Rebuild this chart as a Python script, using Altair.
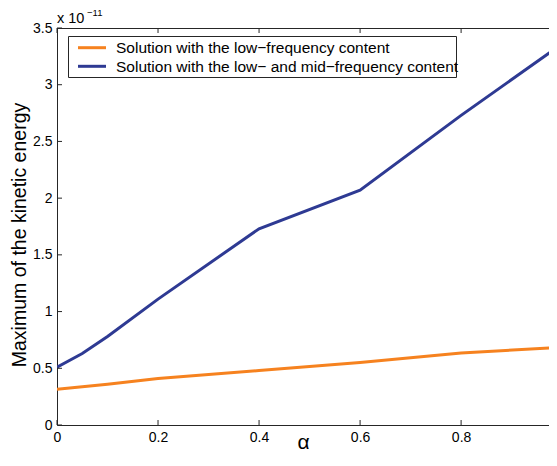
import altair as alt
import pandas as pd

# ---- data (values in units of 1e-11) ----
series_names = ["Solution with the low\u2212frequency content",
                "Solution with the low\u2212 and mid\u2212frequency content"]
alpha_low = [0.0, 0.1, 0.2, 0.4, 0.6, 0.8, 1.0]
energy_low = [0.315, 0.36, 0.41, 0.48, 0.55, 0.635, 0.685]
alpha_mid = [0.0, 0.05, 0.1, 0.2, 0.4, 0.6, 0.8, 1.0]
energy_mid = [0.51, 0.63, 0.78, 1.11, 1.73, 2.07, 2.73, 3.36]
colors = ["#F6821F", "#2E3A93"]

x_ticks = [0, 0.2, 0.4, 0.6, 0.8]
y_ticks = [0, 0.5, 1, 1.5, 2, 2.5, 3, 3.5]

W, H = 492, 397
X_MAX = 0.974
FONT = "Liberation Sans"
AX = "#262626"

rows = []
for a, e in zip(alpha_low, energy_low):
    rows.append({"alpha": a, "energy": e, "series": series_names[0]})
for a, e in zip(alpha_mid, energy_mid):
    rows.append({"alpha": a, "energy": e, "series": series_names[1]})
df = pd.DataFrame(rows)

xscale = alt.Scale(domain=[0, X_MAX], nice=False, zero=False)
yscale = alt.Scale(domain=[0, 3.5], nice=False)

lines = alt.Chart(df).mark_line(strokeWidth=3, clip=True).encode(
    x=alt.X("alpha:Q", scale=xscale,
            axis=alt.Axis(values=x_ticks, format="~g", ticks=False, tickSize=0,
                          grid=False, labelFontSize=14, labelPadding=5,
                          labelColor="black", domainColor=AX,
                          title="\u03b1", titleFontSize=21, titleFontWeight="normal",
                          titleBaseline="alphabetic", titleY=23,
                          titleColor="black", labelFlush=False)),
    y=alt.Y("energy:Q", scale=yscale,
            axis=alt.Axis(values=y_ticks, format="~g", ticks=False, tickSize=0,
                          grid=False, labelFontSize=14, labelPadding=5,
                          labelColor="black", domainColor=AX,
                          title="Maximum of the kinetic energy", titleFontSize=19.5,
                          titleFontWeight="normal", titleBaseline="alphabetic",
                          titleX=-32, titleY=H / 2 + 8, titleAngle=270,
                          titleColor="black", labelFlush=False)),
    color=alt.Color("series:N",
                    scale=alt.Scale(domain=series_names, range=colors),
                    legend=None),
    order=alt.Order("alpha:Q"),
)

ydf = pd.DataFrame({"v": y_ticks})
xdf = pd.DataFrame({"v": x_ticks})

yticks_left = alt.Chart(ydf).mark_rule(color=AX, strokeWidth=1).encode(
    y=alt.Y("v:Q", scale=yscale), x=alt.value(0), x2=alt.value(5))
xticks_bottom = alt.Chart(xdf).mark_rule(color=AX, strokeWidth=1).encode(
    x=alt.X("v:Q", scale=xscale), y=alt.value(H), y2=alt.value(H - 5))
xticks_top = alt.Chart(xdf).mark_rule(color=AX, strokeWidth=1).encode(
    x=alt.X("v:Q", scale=xscale), y=alt.value(0), y2=alt.value(5))
top_line = alt.Chart(pd.DataFrame({"a": [0]})).mark_rule(color=AX, strokeWidth=1).encode(
    x=alt.value(0), x2=alt.value(W), y=alt.value(0.5))

exp_base = alt.Chart(pd.DataFrame({"t": ["x 10"]})).mark_text(
    fontSize=14.5, font=FONT, align="left", baseline="alphabetic", color="black").encode(
    text="t:N", x=alt.value(0), y=alt.value(-5))
exp_sup = alt.Chart(pd.DataFrame({"t": ["\u221211"]})).mark_text(
    fontSize=9.5, font=FONT, align="left", baseline="alphabetic", color="black").encode(
    text="t:N", x=alt.value(30), y=alt.value(-12))

# ---- hand-drawn legend (MATLAB style box) ----
leg_box = alt.Chart(pd.DataFrame({"a": [0]})).mark_rect(
    fill="white", stroke=AX, strokeWidth=1).encode(
    x=alt.value(11.5), x2=alt.value(399.5), y=alt.value(8.5), y2=alt.value(49.5))
row_y = [19.7, 38.3]
leg_layers = [leg_box]
for name, col, yy in zip(series_names, colors, row_y):
    d = pd.DataFrame({"t": [name]})
    leg_layers.append(alt.Chart(d).mark_rule(color=col, strokeWidth=3).encode(
        x=alt.value(21), x2=alt.value(49), y=alt.value(yy)))
    leg_layers.append(alt.Chart(d).mark_text(
        fontSize=15.5, font=FONT, align="left", baseline="middle", color="black").encode(
        text="t:N", x=alt.value(59), y=alt.value(yy + 0.5)))

chart = alt.layer(lines, yticks_left, xticks_bottom, xticks_top, top_line,
                  exp_base, exp_sup, *leg_layers).properties(
    width=W, height=H,
    autosize=alt.AutoSizeParams(type="none"),
    padding={"left": 49, "top": 20, "right": 0, "bottom": 28},
).configure_view(stroke=None).configure(font=FONT)

chart.save("out.html", embed_options={"renderer": "svg", "actions": False})
